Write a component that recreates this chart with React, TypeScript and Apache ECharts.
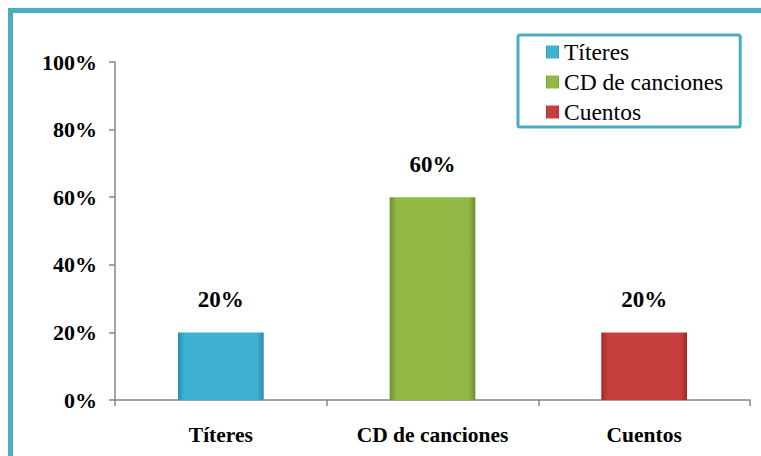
import React, { useEffect, useRef } from "react";
import * as echarts from "echarts";

const categories = ["Títeres", "CD de canciones", "Cuentos"];
const seriesNames = ["Títeres", "CD de canciones", "Cuentos"];
const values = [20, 60, 20];
const colors = ["#3FB2D2", "#93B846", "#C6403F"];
const edgeColors = ["#2A8FAE", "#6F8F2E", "#9E2B2A"];
const yMax = 100;
const yInterval = 20;

const FONT = "Times New Roman, Liberation Serif, serif";

export default function App() {
  const ref = useRef<HTMLDivElement>(null);
  useEffect(() => {
    if (!ref.current) return;
    const chart = echarts.init(ref.current, null, { renderer: "svg" });
    const series = seriesNames.map((name, i) => ({
      name,
      type: "bar",
      stack: "all",
      barWidth: "40.5%",
      data: categories.map((_, j) => (j === i ? values[j] : "-")),
      itemStyle: {
        color: new echarts.graphic.LinearGradient(0, 0, 1, 0, [
          { offset: 0, color: edgeColors[i] },
          { offset: 0.08, color: colors[i] },
          { offset: 0.92, color: colors[i] },
          { offset: 1, color: edgeColors[i] },
        ]),
      },
      label: {
        show: true,
        position: "top",
        distance: 21,
        formatter: "{c}%",
        fontFamily: FONT,
        fontWeight: "bold",
        fontSize: 23,
        color: "#000",
      },
    }));
    chart.setOption({
      animation: false,
      backgroundColor: "#fff",
      textStyle: { fontFamily: FONT },
      graphic: [
        {
          type: "rect",
          shape: { x: 10.5, y: 10.5, width: 800, height: 500 },
          style: { fill: "none", stroke: "#4BACC6", lineWidth: 5 },
          silent: true,
        },
      ],
      legend: {
        data: seriesNames,
        orient: "vertical",
        left: 518,
        top: 35,
        itemWidth: 13,
        itemHeight: 13,
        itemGap: 6,
        icon: "rect",
        padding: [5, 17, 3, 28],
        borderColor: "#4BACC6",
        borderWidth: 3,
        borderRadius: 2,
        backgroundColor: "#fff",
        textStyle: { fontFamily: FONT, fontSize: 23.5, color: "#000" },
      },
      grid: { left: 115, right: 11, top: 62, bottom: 56, containLabel: false },
      xAxis: {
        type: "category",
        data: categories,
        axisLine: { lineStyle: { color: "#868686", width: 1.5 } },
        axisTick: { show: true, length: 6, alignWithLabel: false, lineStyle: { color: "#868686", width: 1.5 } },
        axisLabel: {
          margin: 24,
          fontFamily: FONT,
          fontWeight: "bold",
          fontSize: 21.5,
          color: "#000",
        },
      },
      yAxis: {
        type: "value",
        min: 0,
        max: yMax,
        interval: yInterval,
        splitLine: { show: false },
        axisLine: { show: true, lineStyle: { color: "#868686", width: 1.5 } },
        axisTick: { show: true, length: 6, lineStyle: { color: "#868686", width: 1.5 } },
        axisLabel: {
          formatter: "{value}%",
          margin: 18,
          fontFamily: FONT,
          fontWeight: "bold",
          fontSize: 22,
          color: "#000",
        },
      },
      series,
    });
    return () => chart.dispose();
  }, []);
  return (
    <div
      ref={ref}
      style={{ position: "fixed", left: 0, top: 0, width: 761, height: 456 }}
    />
  );
}
